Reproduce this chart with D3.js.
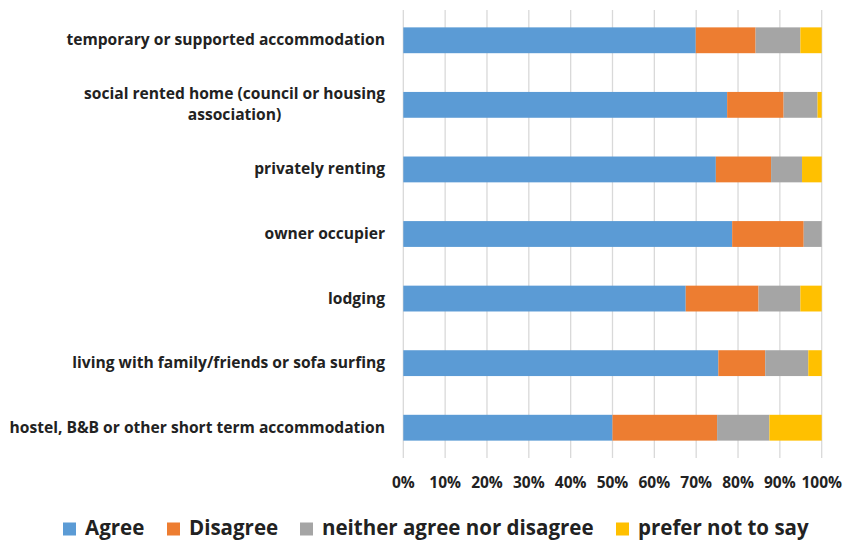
<!DOCTYPE html>
<html>
<head>
<meta charset="utf-8">
<script src="https://cdn.jsdelivr.net/npm/d3@7"></script>
<style>
  body { margin: 0; background: #fff; }
  text { font-family: "Open Sans", Lato, sans-serif; font-weight: bold; fill: #222; }
</style>
</head>
<body>
<script>
// categories, top to bottom
const categories = [
  "temporary or supported accommodation",
  "social rented home (council or housing association)",
  "privately renting",
  "owner occupier",
  "lodging",
  "living with  family/friends or sofa surfing",
  "hostel, B&B or other short term accommodation"
];
// wrapped label lines (as in the picture)
const labelLines = [
  ["temporary or supported accommodation"],
  ["social rented home (council or housing", "association)"],
  ["privately renting"],
  ["owner occupier"],
  ["lodging"],
  ["living with  family/friends or sofa surfing"],
  ["hostel, B&B or other short term accommodation"]
];
const seriesNames = ["Agree", "Disagree", "neither agree nor disagree", "prefer not to say"];
const agree    = [69.9, 77.4, 74.7, 78.6, 67.5, 75.3, 50.0];
const disagree = [14.3, 13.5, 13.2, 17.1, 17.4, 11.2, 25.0];
const neither  = [10.7,  8.1,  7.4,  4.3, 10.0, 10.3, 12.5];
const noSay    = [ 5.1,  1.0,  4.7,  0.0,  5.1,  3.2, 12.5];
const tickValues = [0, 10, 20, 30, 40, 50, 60, 70, 80, 90, 100];
const colors = ["#5B9BD5", "#ED7D31", "#A5A5A5", "#FFC000"];

const W = 843, H = 540;
const plot = {left: 403.3, right: 821.7, top: 10, bottom: 458};

const svg = d3.select("body").append("svg")
  .attr("width", W).attr("height", H);

const x = d3.scaleLinear().domain([0, 100]).range([plot.left, plot.right]);
const y = d3.scaleBand().domain(categories).range([8, 460])
  .paddingInner(0.6).paddingOuter(0.3);

// gridlines
svg.append("g").selectAll("line").data(tickValues).enter().append("line")
  .attr("x1", d => x(d)).attr("x2", d => x(d))
  .attr("y1", plot.top).attr("y2", plot.bottom)
  .style("stroke", "#D9D9D9").style("stroke-width", 1.3);

// stacked data
const rows = categories.map((c, i) => ({cat: c, vals: [agree[i], disagree[i], neither[i], noSay[i]]}));
const segs = [];
rows.forEach(r => {
  let acc = 0;
  r.vals.forEach((v, k) => {
    segs.push({cat: r.cat, x0: acc, x1: acc + v, k: k});
    acc += v;
  });
});

svg.append("g").selectAll("rect").data(segs.filter(d => d.x1 > d.x0)).enter().append("rect")
  .attr("x", d => x(d.x0))
  .attr("y", d => y(d.cat))
  .attr("width", d => x(d.x1) - x(d.x0))
  .attr("height", y.bandwidth())
  .style("fill", d => colors[d.k]);

// x axis tick labels
svg.append("g").selectAll("text").data(tickValues).enter().append("text")
  .attr("x", d => x(d)).attr("y", 488)
  .style("text-anchor", "middle").style("font-size", "15.5px")
  .text(d => d + "%");

// category labels
const labelRight = 385;
const fs = "15.6px";
const lg = svg.append("g");
labelLines.forEach((lines, i) => {
  const cy = y(categories[i]) + y.bandwidth() / 2;
  const lh = 21;
  if (lines.length === 1) {
    lg.append("text").attr("x", labelRight).attr("y", cy + 5)
      .style("text-anchor", "end").style("font-size", fs).text(lines[0]);
  } else {
    const first = lg.append("text").attr("x", labelRight).attr("y", cy - lh / 2 + 5)
      .style("text-anchor", "end").style("font-size", fs).text(lines[0]);
    const w = first.node().getComputedTextLength();
    const mid = labelRight - w / 2;
    lines.slice(1).forEach((l, j) => {
      lg.append("text").attr("x", mid).attr("y", cy - lh / 2 + 5 + lh * (j + 1))
        .style("text-anchor", "middle").style("font-size", fs).text(l);
    });
  }
});

// legend
const legendX = [63, 167, 300, 616];
const legend = svg.append("g");
seriesNames.forEach((s, k) => {
  legend.append("rect").attr("x", legendX[k]).attr("y", 522.5)
    .attr("width", 13).attr("height", 13).style("fill", colors[k]);
  legend.append("text").attr("x", legendX[k] + 22).attr("y", 534.5)
    .style("font-size", "20.5px").text(s);
});
</script>
</body>
</html>
